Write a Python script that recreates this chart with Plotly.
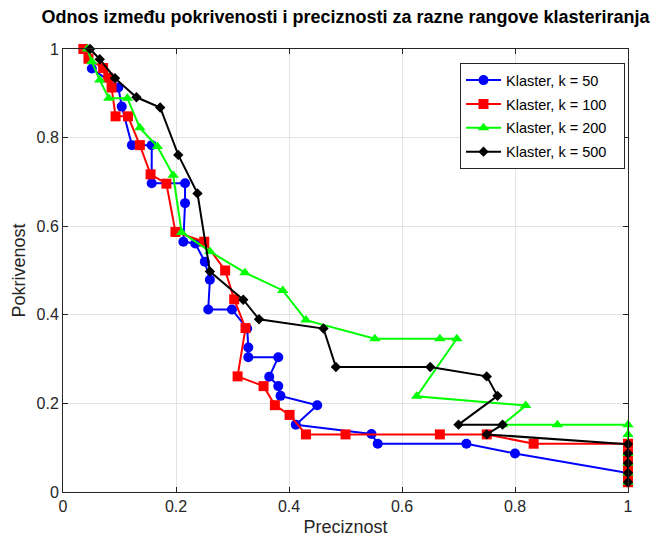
import plotly.graph_objects as go

# ---- data ----
k50_x = [0.037, 0.051, 0.098, 0.104, 0.122, 0.157, 0.157, 0.216, 0.216, 0.213, 0.234, 0.251, 0.260,
         0.257, 0.299, 0.326, 0.328, 0.328, 0.381, 0.365, 0.381, 0.385, 0.450, 0.412, 0.546, 0.557,
         0.714, 0.800, 1.0, 1.0]
k50_y = [1.0, 0.956, 0.913, 0.870, 0.783, 0.783, 0.697, 0.697, 0.652, 0.565, 0.561, 0.520, 0.479,
         0.412, 0.412, 0.369, 0.326, 0.304, 0.304, 0.260, 0.239, 0.217, 0.196, 0.152, 0.131, 0.109,
         0.109, 0.087, 0.043, 0.022]

k100_x = [0.036, 0.045, 0.071, 0.080, 0.086, 0.093, 0.115, 0.136, 0.155, 0.183, 0.199, 0.250,
          0.287, 0.303, 0.323, 0.309, 0.355, 0.375, 0.401, 0.430, 0.500, 0.667, 0.750, 0.833,
          1.0, 1.0, 1.0, 1.0, 1.0]
k100_y = [1.0, 0.978, 0.957, 0.935, 0.913, 0.848, 0.848, 0.783, 0.717, 0.696, 0.587, 0.565,
          0.500, 0.435, 0.370, 0.261, 0.239, 0.196, 0.174, 0.130, 0.130, 0.130, 0.130, 0.109,
          0.109, 0.087, 0.065, 0.043, 0.022]

k200_x = [0.043, 0.051, 0.065, 0.081, 0.114, 0.136, 0.167, 0.195, 0.210, 0.260, 0.322, 0.389,
          0.430, 0.552, 0.667, 0.697, 0.626, 0.819, 0.778, 0.875, 1.0, 1.0, 1.0, 1.0, 1.0, 1.0]
k200_y = [1.0, 0.971, 0.930, 0.889, 0.889, 0.822, 0.780, 0.715, 0.586, 0.543, 0.495, 0.455,
          0.388, 0.346, 0.346, 0.346, 0.216, 0.195, 0.152, 0.152, 0.152, 0.130, 0.087, 0.065,
          0.043, 0.022]

k500_x = [0.048, 0.065, 0.092, 0.130, 0.172, 0.204, 0.238, 0.260, 0.319, 0.347, 0.461, 0.483,
          0.650, 0.750, 0.769, 0.700, 0.778, 0.750, 1.0, 1.0, 1.0, 1.0, 1.0]
k500_y = [1.0, 0.977, 0.934, 0.891, 0.868, 0.761, 0.674, 0.498, 0.434, 0.390, 0.369, 0.282,
          0.282, 0.261, 0.217, 0.152, 0.152, 0.130, 0.108, 0.087, 0.065, 0.043, 0.022]

names = ["Klaster, k = 50", "Klaster, k = 100", "Klaster, k = 200", "Klaster, k = 500"]
colors = ["#0000FF", "#FF0000", "#00FF00", "#000000"]
symbols = ["circle", "square", "triangle-up", "diamond"]
msizes = [10, 10, 10, 8]

xticks = [0, 0.2, 0.4, 0.6, 0.8, 1]
yticks = [0, 0.2, 0.4, 0.6, 0.8, 1]

series = [(k50_x, k50_y), (k100_x, k100_y), (k200_x, k200_y), (k500_x, k500_y)]

fig = go.Figure()
for i, (xs, ys) in enumerate(series):
    fig.add_trace(go.Scatter(
        x=xs, y=ys, mode="lines+markers", name=names[i] + "\u00a0\u00a0\u00a0",
        line=dict(color=colors[i], width=2),
        marker=dict(symbol=symbols[i], size=msizes[i], color=colors[i],
                    line=dict(width=0)),
        cliponaxis=False, legendgroup=names[i],
    ))

font_family = "Liberation Sans, Arial, sans-serif"
axis_common = dict(
    range=[0, 1], showgrid=True, gridcolor="#e3e3e3", gridwidth=1,
    showline=True, linecolor="#262626", linewidth=1, mirror="ticks",
    ticks="inside", ticklen=5, tickcolor="#262626", zeroline=False,
    automargin=False,
    tickfont=dict(family=font_family, size=16, color="#262626"),
)

fig.update_layout(
    width=657, height=541,
    margin=dict(l=63, r=29, t=49, b=49),
    paper_bgcolor="white", plot_bgcolor="white",
    title=dict(text="<b>Odnos između pokrivenosti i preciznosti za razne rangove klasteriranja</b>",
               font=dict(family=font_family, size=18, color="#000000"),
               x=0.5, xref="paper", xanchor="center",
               y=1 - 17 / 541, yref="container", yanchor="middle"),
    xaxis=dict(axis_common, tickvals=xticks,
               title=dict(text="Preciznost", standoff=6,
                          font=dict(family=font_family, size=18, color="#262626"))),
    yaxis=dict(axis_common, tickvals=yticks,
               title=dict(text="Pokrivenost", standoff=6,
                          font=dict(family=font_family, size=18, color="#262626"))),
    legend=dict(x=0.9947, xanchor="right", y=0.968, yanchor="top",
                bordercolor="#262626", borderwidth=1, bgcolor="white",
                font=dict(family=font_family, size=14.5, color="#000000"),
                tracegroupgap=2, itemwidth=35),
    showlegend=True,
)

fig.write_html("out.html")
